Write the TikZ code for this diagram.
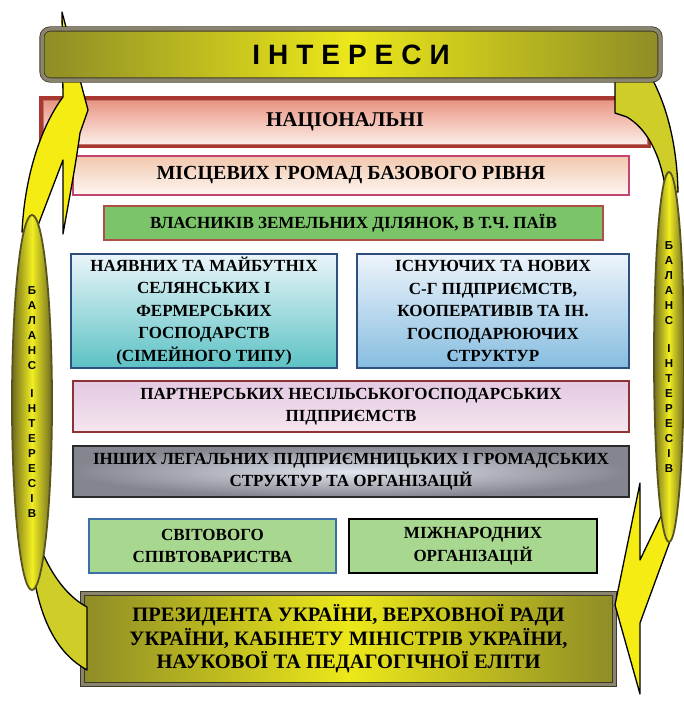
\documentclass[tikz,border=0pt]{standalone}
\usepackage{fontspec}
\setmainfont{Liberation Serif}
\newfontfamily\sansfnt{Liberation Sans}
\usetikzlibrary{shapes.geometric}
\definecolor{natb}{HTML}{A83830}\definecolor{nat1}{HTML}{E8907E}\definecolor{nat2}{HTML}{FDF2EC}
\definecolor{locb}{HTML}{C24470}\definecolor{loc1}{HTML}{F2C8AE}\definecolor{loc2}{HTML}{FDF6F2}
\definecolor{ownb}{HTML}{B04E48}\definecolor{ownf}{HTML}{7CC46A}
\definecolor{blueb}{HTML}{2F4F7F}\definecolor{farm1}{HTML}{EAF5FA}\definecolor{farm2}{HTML}{5CC2C4}
\definecolor{ent1}{HTML}{EEF4FB}\definecolor{ent2}{HTML}{86BDE0}
\definecolor{partb}{HTML}{8C3434}\definecolor{part1}{HTML}{E3C9E2}\definecolor{part2}{HTML}{F5E6EF}
\definecolor{othb}{HTML}{2A2A2A}\definecolor{oth1}{HTML}{E2E6EE}\definecolor{oth2}{HTML}{84868F}
\definecolor{worldb}{HTML}{3C6EA8}\definecolor{greenf}{HTML}{A8D790}
\definecolor{frameband}{HTML}{8A846E}\definecolor{framedark}{HTML}{3E3A28}
\definecolor{olv}{HTML}{8E8C26}\definecolor{ylw}{HTML}{ECE81A}
\definecolor{headc}{HTML}{F4EC12}\definecolor{tailc}{HTML}{CFCD28}
\definecolor{elo}{HTML}{6E6A20}\definecolor{eli}{HTML}{F2EE22}\definecolor{elb}{HTML}{58541E}
\begin{document}
\begin{tikzpicture}[x=1pt,y=-1pt,
  box/.style={draw, line width=2.2pt, inner sep=0pt, align=center, font=\bfseries\fontsize{17}{22.5}\selectfont},
  frame/.style={draw=framedark, line width=0.8pt, double=frameband, double distance=3.5pt},
  arrhead/.style={fill=headc, draw=black, line width=1.3pt, line join=round},
  arrtail/.style={fill=tailc, draw=black, line width=1.3pt, line join=round},
  balance/.style={ellipse, draw=elb, line width=1.8pt, inner sep=0pt, left color=elo, right color=elo, middle color=eli,
    align=center, font=\sansfnt\bfseries\fontsize{11.5}{15}\selectfont}]
\useasboundingbox (0,0) rectangle (684,701);

\node[box, minimum width=608pt, minimum height=48pt, draw=natb, line width=4pt, top color=nat1, bottom color=nat2,
  font=\bfseries\fontsize{21}{24}\selectfont] (nat) at (345,122) {НАЦІОНАЛЬНІ};
\draw[natb!70!white, line width=0.8pt] ([shift={(4pt,-4pt)}]nat.north west) rectangle ([shift={(-4pt,4pt)}]nat.south east);
\node[box, minimum width=556pt, minimum height=39pt, draw=locb, top color=loc1, bottom color=loc2,
  font=\bfseries\fontsize{20}{24}\selectfont] (loc) at (351,175.5) {МІСЦЕВИХ ГРОМАД БАЗОВОГО РІВНЯ};
\node[box, minimum width=499pt, minimum height=34pt, draw=ownb, fill=ownf] (own) at (353.5,223) {ВЛАСНИКІВ ЗЕМЕЛЬНИХ ДІЛЯНОК, В Т.Ч. ПАЇВ};
\node[box, minimum width=266pt, minimum height=114pt, draw=blueb, top color=farm1, bottom color=farm2] (farm) at (204,311)
  {НАЯВНИХ ТА МАЙБУТНІХ\\СЕЛЯНСЬКИХ І\\ФЕРМЕРСЬКИХ\\ГОСПОДАРСТВ\\(СІМЕЙНОГО ТИПУ)};
\node[box, minimum width=272pt, minimum height=114pt, draw=blueb, top color=ent1, bottom color=ent2] (ent) at (493,311)
  {ІСНУЮЧИХ ТА НОВИХ\\С-Г ПІДПРИЄМСТВ,\\КООПЕРАТИВІВ ТА ІН.\\ГОСПОДАРЮЮЧИХ\\СТРУКТУР};
\node[box, minimum width=556pt, minimum height=51pt, draw=partb, top color=part1, bottom color=part2] (part) at (351,406.5)
  {ПАРТНЕРСЬКИХ НЕСІЛЬСЬКОГОСПОДАРСЬКИХ\\ПІДПРИЄМСТВ};
\node[box, minimum width=556pt, minimum height=51pt, draw=othb, inner color=oth1, outer color=oth2] (oth) at (351,471.5)
  {ІНШИХ ЛЕГАЛЬНИХ ПІДПРИЄМНИЦЬКИХ І ГРОМАДСЬКИХ\\СТРУКТУР ТА ОРГАНІЗАЦІЙ};
\node[box, minimum width=247pt, minimum height=54pt, draw=worldb, fill=greenf] (world) at (212.5,546) {СВІТОВОГО\\СПІВТОВАРИСТВА};
\node[box, minimum width=248pt, minimum height=54pt, draw=black, fill=greenf] (intl) at (473,546) {МІЖНАРОДНИХ\\ОРГАНІЗАЦІЙ};
\node[box, frame, minimum width=532pt, minimum height=91pt, left color=olv, right color=olv, middle color=ylw,
  font=\bfseries\fontsize{20.5}{23.5}\selectfont] (pres) at (348.5,639)
  {ПРЕЗИДЕНТА УКРАЇНИ, ВЕРХОВНОЇ РАДИ\\УКРАЇНИ, КАБІНЕТУ МІНІСТРІВ УКРАЇНИ,\\НАУКОВОЇ ТА ПЕДАГОГІЧНОЇ ЕЛІТИ};

% arrows
\filldraw[arrhead] (22,232) .. controls (25,170) and (44,122) .. (63,97) -- (62,12) -- (88,110) -- (80,133)
  .. controls (75,170) and (68,205) .. (63,234) -- (63,160) -- (37,228) -- cycle;
\filldraw[arrtail] (615,75) -- (615,113) -- (627,117) .. controls (645,128) and (660,150) .. (666,192) -- (678,192)
  .. controls (677,145) and (667,105) .. (650,75) -- cycle;
\filldraw[arrhead] (640,483) -- (615,605) -- (640,694) -- (640,623) -- (673,533) -- (663,512) -- (640,560) -- cycle;
\filldraw[arrtail] (32,565) -- (44,556) .. controls (55,580) and (70,598) .. (87,607) -- (87,670)
  .. controls (60,655) and (40,625) .. (32,565) -- cycle;

% balance ellipses
\node[balance, minimum width=40pt, minimum height=375pt] (lbal) at (32,402.5)
  {Б\\А\\Л\\А\\Н\\С\\[13pt]І\\Н\\Т\\Е\\Р\\Е\\С\\І\\В};
\node[balance, minimum width=30pt, minimum height=370pt] (rbal) at (669,357)
  {Б\\А\\Л\\А\\Н\\С\\[13pt]І\\Н\\Т\\Е\\Р\\Е\\С\\І\\В};

% banner
\node[frame, rounded corners=8pt, minimum width=618pt, minimum height=51pt, inner sep=0pt,
  left color=olv, right color=olv, middle color=ylw, font=\sansfnt\bfseries\fontsize{28}{30}\selectfont] (ban) at (351,54.5)
  {І\kern8pt Н\kern8pt Т\kern8pt Е\kern8pt Р\kern8pt Е\kern8pt С\kern8pt И};
\end{tikzpicture}
\end{document}
